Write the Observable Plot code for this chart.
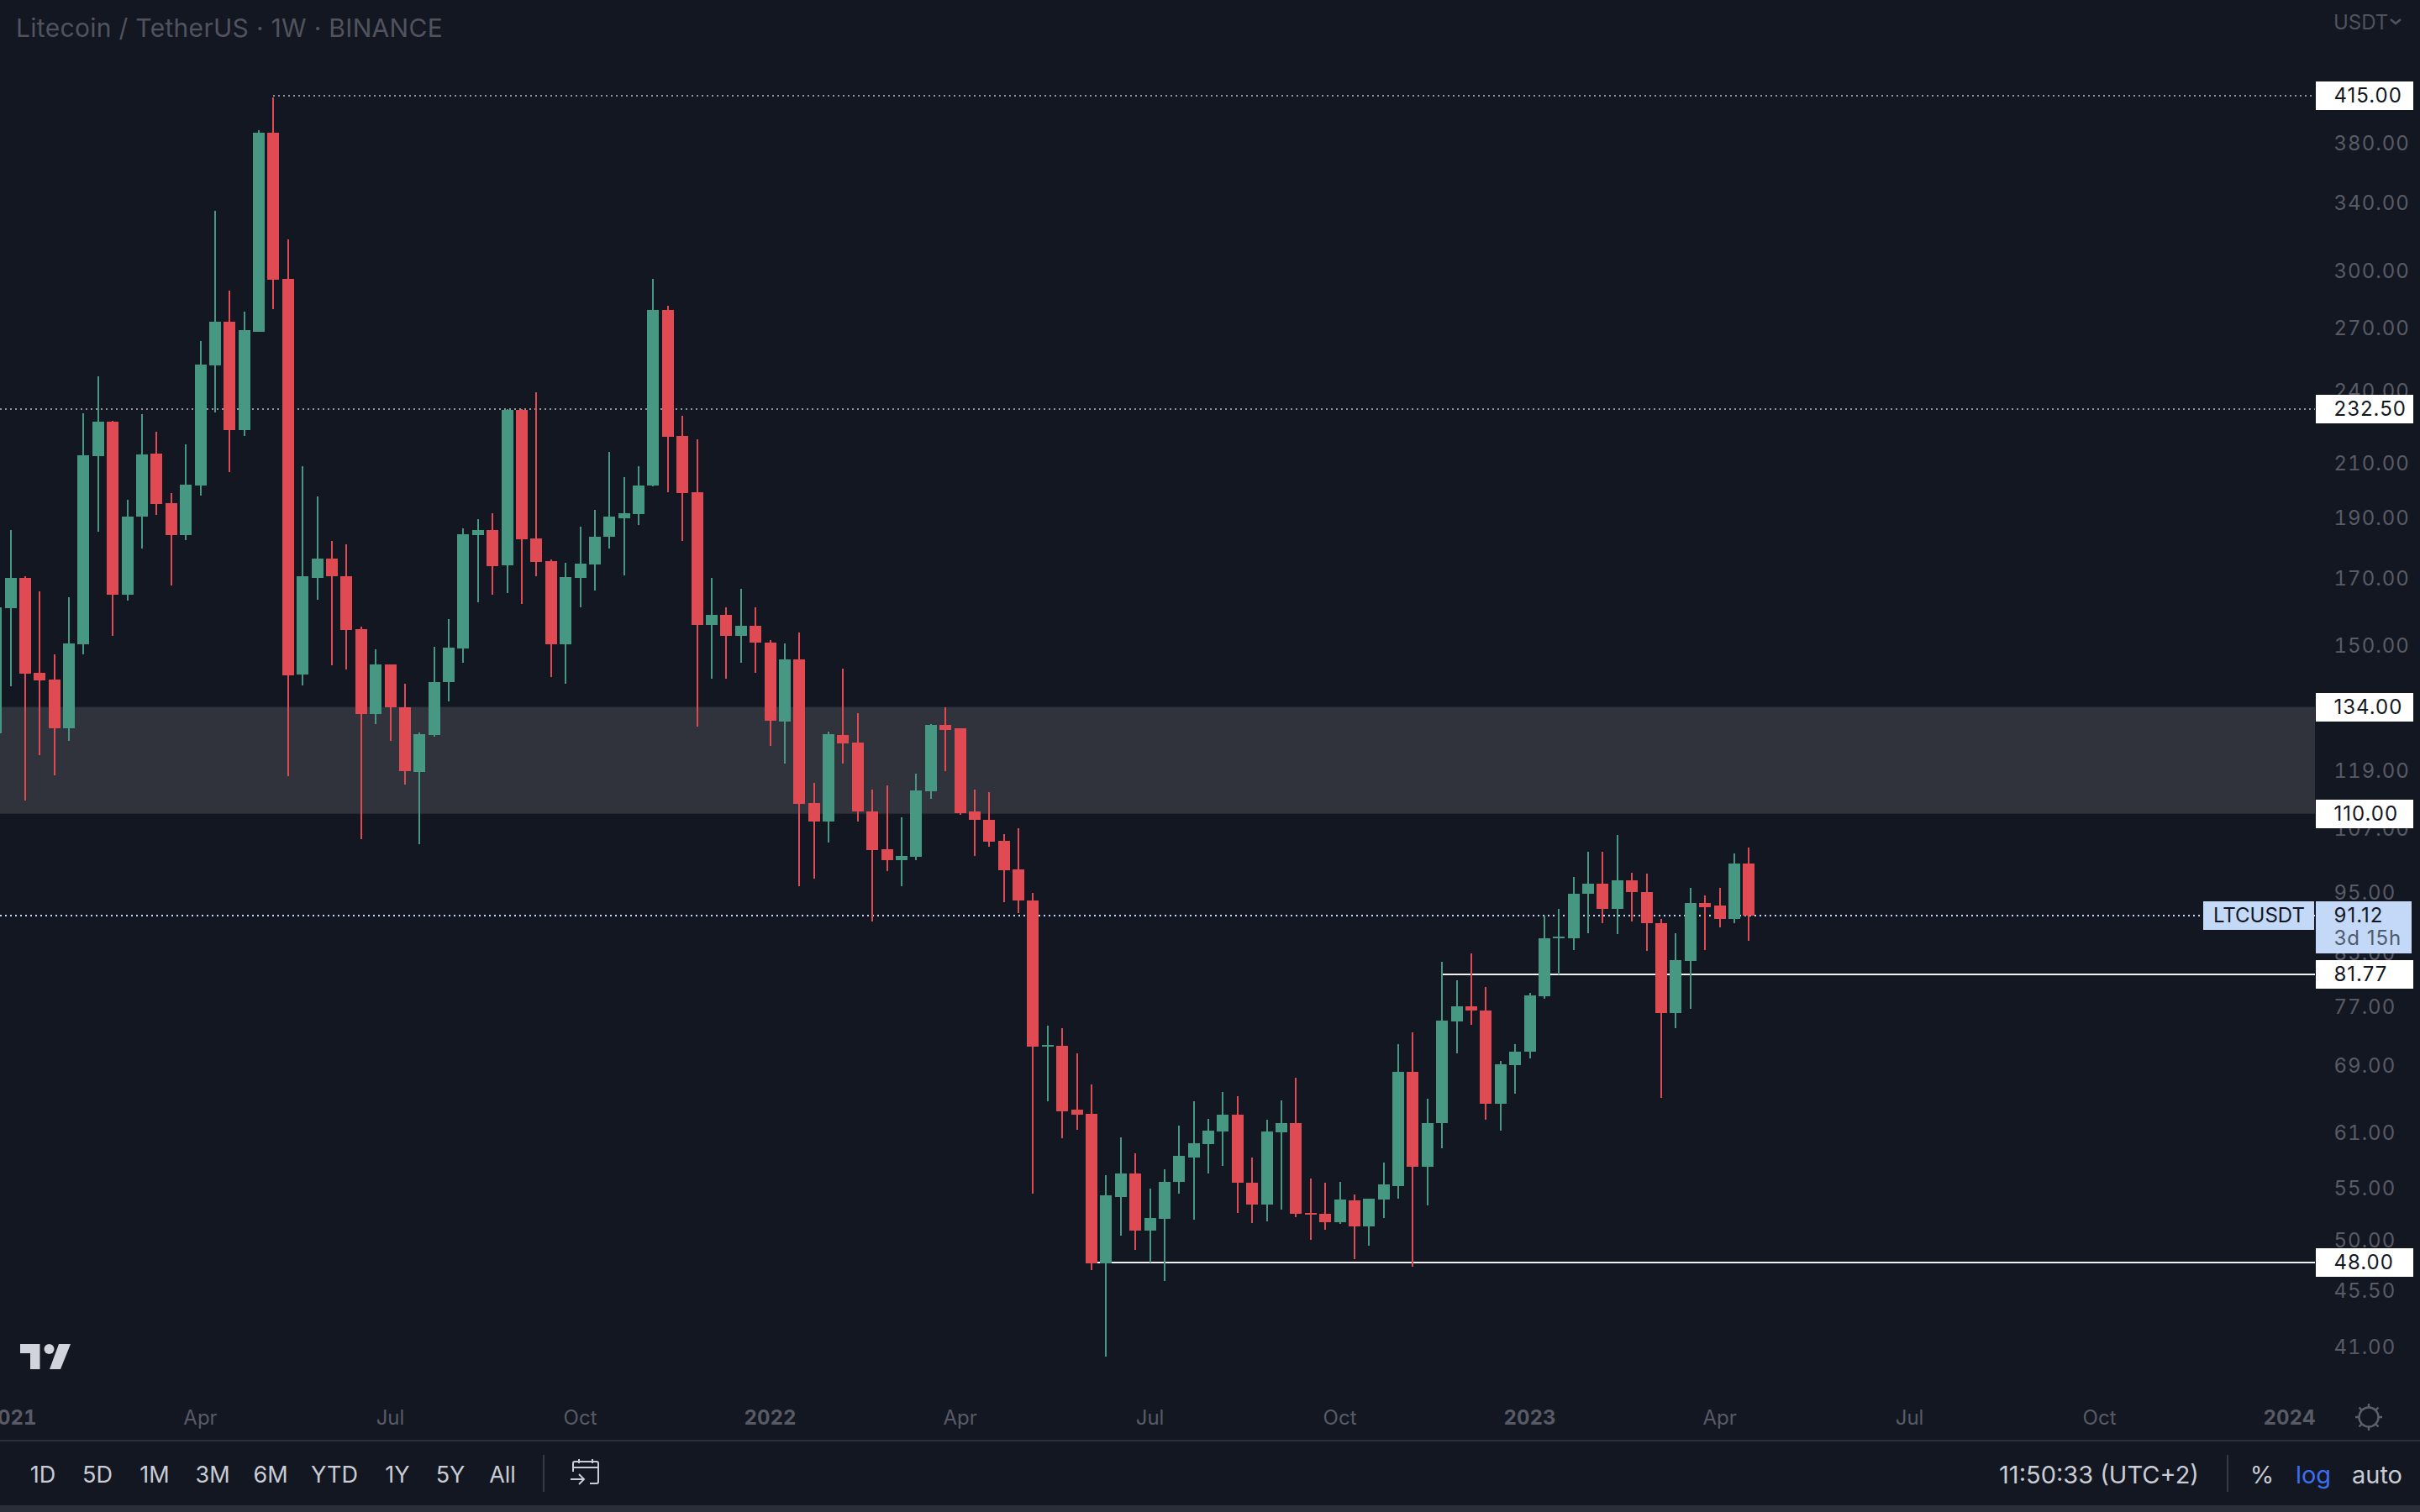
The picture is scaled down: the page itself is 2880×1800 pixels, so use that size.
<!DOCTYPE html>
<html><head><meta charset="utf-8">
<script src="https://cdn.jsdelivr.net/npm/d3@7"></script>
<script src="https://cdn.jsdelivr.net/npm/@observablehq/plot@0.6"></script>
<style>
html,body{margin:0;padding:0;background:#131722;}
#page{position:relative;width:2880px;height:1800px;overflow:hidden;background:#131722;font-family:Inter,sans-serif;}
#chart{position:absolute;left:0;top:0;}
.t{position:absolute;white-space:nowrap;transform:translate(-50%,-50%);font-size:27px;color:#c9ccd4;line-height:1;}
.r{font-size:29px;}
.l{position:absolute;white-space:nowrap;transform:translateY(-50%);line-height:1;}
.bar{position:absolute;}
</style></head><body>
<div id="page"><div id="chart"></div>
<div class="l" style="left:19px;top:33px;font-size:30px;letter-spacing:.3px;color:#50535e">Litecoin / TetherUS · 1W · BINANCE</div>
<div class="l" style="left:2777px;top:27px;font-size:24px;color:#50535e">USDT</div>
<svg class="bar" style="left:2843px;top:20px" width="16" height="12"><path d="M2 3 L8 8 L14 3" fill="none" stroke="#50535e" stroke-width="2.5"/></svg>
<svg class="bar" style="left:24px;top:1600px" width="62" height="31"><path d="M0 0H23.5V30H12V11H0Z M35 30L46 0H60L48 30Z" fill="#d1d4dc"/><ellipse cx="34.5" cy="6" rx="6" ry="6" fill="#d1d4dc"/></svg>
<svg class="bar" style="left:2801px;top:1669px" width="36" height="36"><g stroke="#5d606b" stroke-width="2.4" fill="none"><circle cx="18" cy="18" r="11.5"/><path d="M18 2V6.5M18 29.5V34M2 18H6.5M29.5 18H34M6.5 6.5L9.8 9.8M26.2 26.2L29.5 29.5M6.5 29.5L9.8 26.2M26.2 9.8L29.5 6.5"/></g></svg>
<div class="bar" style="left:0;top:1714px;width:2880px;height:2px;background:#2a2e39"></div>
<div class="bar" style="left:0;top:1792px;width:2880px;height:8px;background:#2a2e39"></div>
<div class="bar" style="left:646px;top:1732px;width:2px;height:44px;background:#363a45"></div>
<div class="bar" style="left:2650px;top:1732px;width:2px;height:44px;background:#363a45"></div>
<svg class="bar" style="left:678px;top:1736px" width="38" height="34"><g fill="none" stroke="#c9ccd4" stroke-width="2"><path d="M4 16V6a2 2 0 0 1 2-2H32a2 2 0 0 1 2 2V28a2 2 0 0 1-2 2H24M4 11H34M11 1V6M27 1V6M1 25H17M11 19L17 25L11 31"/></g></svg>
<div class="t" style="left:51px;top:1755px">1D</div>
<div class="t" style="left:116px;top:1755px">5D</div>
<div class="t" style="left:184px;top:1755px">1M</div>
<div class="t" style="left:253px;top:1755px">3M</div>
<div class="t" style="left:322px;top:1755px">6M</div>
<div class="t" style="left:398px;top:1755px">YTD</div>
<div class="t" style="left:473px;top:1755px">1Y</div>
<div class="t" style="left:536px;top:1755px">5Y</div>
<div class="t" style="left:598px;top:1755px">All</div>
<div class="t r" style="left:2498px;top:1755px">11:50:33 (UTC+2)</div>
<div class="t r" style="left:2692px;top:1755px">%</div>
<div class="t r" style="left:2753px;top:1755px;color:#3a6ff0">log</div>
<div class="t r" style="left:2829px;top:1755px">auto</div>
</div>
<script>
const open = [127.7,160.9,170.1,142.7,141.0,128.9,150.5,213.1,227.2,164.9,190.4,214.2,195.3,184.0,201.9,252.0,273.1,223.5,268.3,387.6,295.6,142.3,170.1,176.4,170.6,154.7,132.2,145.0,133.9,118.9,127.3,140.2,149.3,184.1,185.9,174.1,232.2,183.1,175.5,150.5,170.2,174.4,183.6,190.0,191.5,201.8,279.3,221.2,199.3,156.0,158.9,152.8,155.8,151.0,130.4,146.3,112.2,108.4,127.3,125.4,110.5,103.0,101.0,101.5,114.7,129.6,128.9,110.4,108.8,104.7,99.3,93.7,71.5,71.6,63.7,63.2,47.9,54.2,56.6,50.9,52.0,55.7,58.3,59.7,61.1,63.1,55.6,53.4,61.0,62.1,52.6,52.5,51.7,53.8,51.3,53.9,55.3,68.3,57.3,62.1,74.9,77.1,76.5,64.3,69.1,70.8,78.5,87.4,87.4,94.8,96.7,92.3,97.3,95.2,89.9,76.1,83.8,93.3,92.8,90.6,100.3];
const high = [161.2,185.9,170.6,166.0,147.7,164.1,230.6,247.0,227.5,196.6,230.2,222.7,199.1,217.8,263.7,335.4,289.5,278.4,389.0,413.5,318.1,209.0,197.8,182.2,180.9,155.5,149.1,145.0,139.8,127.8,149.8,157.7,186.5,189.7,191.7,232.5,232.4,239.8,176.1,175.0,187.1,193.0,214.8,205.1,209.2,295.6,281.5,229.6,219.8,170.2,161.1,166.7,161.1,151.6,150.7,153.8,116.4,128.1,143.9,132.5,115.0,115.9,109.3,118.5,129.8,133.9,128.9,115.0,114.5,105.9,107.1,95.0,74.4,74.0,70.6,66.7,56.4,60.5,58.7,55.0,57.0,61.8,64.6,62.6,65.8,65.3,58.3,62.5,64.7,67.5,56.0,55.6,55.7,54.4,54.0,57.7,71.9,73.4,64.9,83.7,80.9,85.0,79.9,69.7,71.9,79.0,91.1,92.2,97.8,102.6,102.5,105.7,98.7,98.4,90.6,88.2,95.9,94.6,95.9,102.2,103.4];
const low = [127.7,139.3,112.7,122.5,118.1,125.9,147.7,185.4,152.8,163.2,179.6,191.1,167.8,182.4,198.1,231.1,207.0,221.2,268.0,279.7,117.9,139.5,163.3,144.8,143.7,105.0,129.9,125.9,116.1,103.9,126.8,135.4,145.3,162.7,164.9,165.4,162.2,170.6,141.7,139.8,161.1,166.2,179.7,170.9,187.7,201.5,199.3,182.0,129.3,141.2,141.2,145.3,142.8,124.7,120.7,96.2,97.5,104.3,120.7,108.5,90.1,98.9,96.2,100.9,113.1,119.0,109.7,101.7,103.5,93.4,91.5,54.5,64.6,60.4,61.3,47.3,40.3,50.4,49.1,48.0,46.4,54.5,51.9,56.6,57.4,52.6,51.6,51.8,52.9,52.2,50.0,51.0,51.5,48.3,49.5,52.1,54.0,47.6,53.3,59.3,70.6,74.5,62.5,61.2,65.6,70.0,78.1,81.7,85.5,88.2,89.8,88.1,90.1,85.3,65.0,74.0,76.7,85.5,89.1,89.9,87.0];
const close = [161.2,170.1,142.6,140.8,128.9,150.8,213.4,227.2,164.9,190.6,213.8,195.1,184.0,202.1,252.5,273.1,223.5,269.0,387.6,295.3,142.0,170.5,176.4,170.5,154.6,132.2,145.0,133.9,119.0,127.5,140.3,149.6,184.4,185.9,173.9,232.2,182.8,175.3,150.5,170.4,174.7,183.6,190.5,191.7,201.8,279.3,220.8,199.0,156.0,158.9,152.8,155.8,151.0,130.6,146.3,112.0,108.5,127.5,125.2,110.4,102.8,101.0,101.7,114.9,129.6,128.4,110.2,108.7,104.5,99.1,93.7,71.5,71.7,63.5,63.1,47.9,54.3,56.6,50.9,52.1,55.7,58.4,59.8,61.2,63.1,55.6,53.4,61.1,62.1,52.5,52.4,51.7,53.9,51.3,54.0,55.4,68.3,57.3,62.1,75.0,77.1,76.4,64.3,69.2,70.9,78.6,87.4,87.6,94.8,96.6,92.3,97.3,95.1,89.8,76.1,83.9,93.3,92.6,90.6,100.3,91.12];

const firstWeek = Date.UTC(2020,11,21);
const WEEK = 7*864e5;
const GREEN = "#469883", RED = "#e04a52";
const candles = open.map((o,i)=>({date:new Date(firstWeek+i*WEEK),open:o,high:high[i],low:low[i],close:close[i],color:close[i]>=o?GREEN:RED}));

const priceTicks = [380,340,300,270,240,210,190,170,150,119,107,95,85,77,69,61,55,50,45.5,41];
const tagLevels = [415,232.5,134,110,81.77,48];
const zone = [{low:110,high:134}];
const lastPrice = [91.12];
const monthTicks = ["2021-03-29","2021-06-28","2021-09-27","2022-03-28","2022-06-27","2022-09-26","2023-03-27","2023-06-26","2023-09-25"].map(d=>new Date(d));
const monthNames = ["Apr","Jul","Oct","Apr","Jul","Oct","Apr","Jul","Oct"];
const yearTicks = ["2020-12-28","2021-12-27","2022-12-26","2023-12-25"].map(d=>new Date(d));
const yearNames = ["2021","2022","2023","2024"];
const domainEnd = new Date("2024-01-06T11:00Z");
const dotted = [
  {y:415,x1:new Date("2021-05-03"),stroke:"#8f929b"},
  {y:232.5,x1:new Date("2020-12-23T04:00Z"),stroke:"#8f929b"},
  {y:91.12,x1:new Date("2020-12-23T04:00Z"),stroke:"#c3d9f7"}
];
const solid = [
  {y:81.77,x1:new Date("2022-11-14")},
  {y:48,x1:new Date("2022-05-30")}
];

const AXIS = "#585b66";
const chart = Plot.plot({
  width:2880,height:1800,marginLeft:0,marginRight:125,marginTop:0,marginBottom:130,
  style:{background:"transparent",fontFamily:"Inter, sans-serif",fontSize:"24px",overflow:"visible"},
  x:{type:"utc",domain:[new Date("2020-12-23T04:00Z"),domainEnd]},
  y:{type:"log",domain:[37.02,495.1],range:[1670,0]},
  marks:[
    Plot.rect(zone,{y1:"low",y2:"high",fill:"#30333c"}),
    Plot.axisY(priceTicks,{anchor:"right",tickSize:0,tickPadding:22,tickFormat:d3.format(".2f"),label:null,color:AXIS,fill:AXIS}),
    Plot.axisX(monthTicks,{anchor:"bottom",tickSize:0,tickPadding:8,tickFormat:d=>monthNames[monthTicks.indexOf(d)],label:null,fill:AXIS}),
    Plot.axisX(yearTicks,{anchor:"bottom",tickSize:0,tickPadding:8,tickFormat:d=>yearNames[yearTicks.indexOf(d)],label:null,fill:AXIS,fontWeight:"bold"}),
    Plot.ruleY(dotted,{y:"y",x1:"x1",x2:()=>domainEnd,stroke:"stroke",strokeWidth:2,strokeDasharray:"2 4",shapeRendering:"crispEdges"}),
    Plot.ruleY(solid,{y:"y",x1:"x1",x2:()=>domainEnd,stroke:"#f0f0f0",strokeWidth:2,shapeRendering:"crispEdges"}),
    Plot.ruleX(candles,{x:"date",y1:"low",y2:"high",stroke:"color",strokeWidth:2,shapeRendering:"crispEdges"}),
    Plot.ruleX(candles,{x:"date",y1:"open",y2:"close",stroke:"color",strokeWidth:14,shapeRendering:"crispEdges"}),
    Plot.ruleY(tagLevels,{stroke:"#fff",strokeWidth:34,insetLeft:2756,insetRight:-117,shapeRendering:"crispEdges"}),
    Plot.text(tagLevels,{y:d=>d,text:d=>d3.format(".2f")(d),frameAnchor:"right",textAnchor:"start",dx:22,fill:"#131722"}),
    Plot.ruleY(lastPrice,{stroke:"#c3d9f7",strokeWidth:34,insetLeft:2622,insetRight:1,shapeRendering:"crispEdges"}),
    Plot.ruleY(lastPrice,{stroke:"#c3d9f7",strokeWidth:62,dy:14,insetLeft:2756,insetRight:-115,shapeRendering:"crispEdges"}),
    Plot.text(lastPrice,{y:d=>d,text:()=>"LTCUSDT",frameAnchor:"right",textAnchor:"middle",dx:-67,fill:"#131722"}),
    Plot.text(lastPrice,{y:d=>d,text:d=>d3.format(".2f")(d),frameAnchor:"right",textAnchor:"start",dx:22,fill:"#131722"}),
    Plot.text(lastPrice,{y:d=>d,text:()=>"3d 15h",frameAnchor:"right",textAnchor:"start",dx:22,dy:27,fill:"#4f5b6b"})
  ]
});
document.getElementById("chart").appendChild(chart);
chart.querySelectorAll('[aria-label="y-axis tick label"] text, g[aria-label="text"] text').forEach(t=>{
  if(t.textContent!=="LTCUSDT") t.style.letterSpacing="1px";
});
</script>
</body></html>
